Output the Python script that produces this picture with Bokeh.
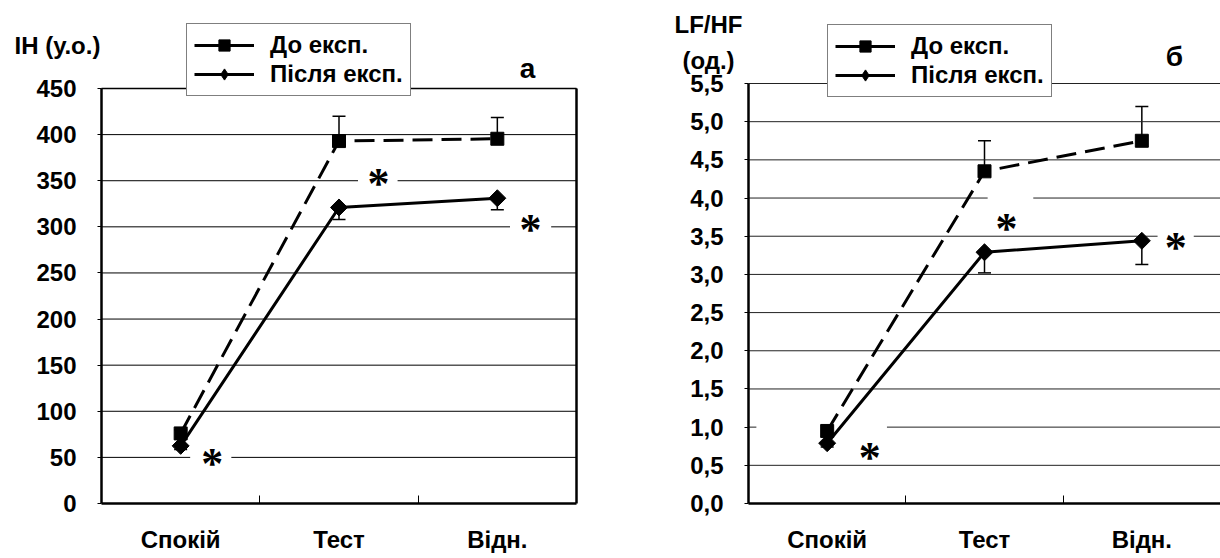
from bokeh.plotting import figure
from bokeh.models import (Range1d, FixedTicker, Legend, LegendItem, Label, Whisker,
                          TeeHead, ColumnDataSource)
from bokeh.layouts import row
from bokeh.embed import file_html
from bokeh.resources import INLINE
from bokeh.core.properties import value
import math

# ---------------- data ----------------
categories = ["Спокій", "Тест", "Відн."]
series_names = ["До експ.", "Після експ."]

ih_before = [76, 393, 395.5]
ih_before_err = [4, 27, 23]
ih_after = [62.5, 321, 331]
ih_after_err = [4, 13, 12.5]
ih_ticks = [0, 50, 100, 150, 200, 250, 300, 350, 400, 450]

lfhf_before = [0.95, 4.35, 4.75]
lfhf_before_err = [0.05, 0.40, 0.45]
lfhf_after = [0.79, 3.29, 3.44]
lfhf_after_err = [0.05, 0.27, 0.31]
lfhf_ticks = [0.0, 0.5, 1.0, 1.5, 2.0, 2.5, 3.0, 3.5, 4.0, 4.5, 5.0, 5.5]

# significance marks (asterisks) and the white boxes behind them
ih_star_x = [0.70, 1.75, 2.71]
ih_star_y = [48, 351, 301.5]
ih_gap_x0 = [0.56, 1.62, 2.58]
ih_gap_x1 = [0.82, 1.87, 2.84]
ih_gap_y = [50, 350, 300]

lfhf_star_x = [0.77, 1.64, 2.715]
lfhf_star_y = [0.654, 3.66, 3.40]
lfhf_gap_x0 = [0.05, 1.52, 2.60]
lfhf_gap_x1 = [0.88, 1.81, 2.83]
lfhf_gap_y = [1.0, 4.0, 3.5]

FONT = "Liberation Sans"
H = 558
NAN = float("nan")


def make_panel(width, left_px, frame_w, top_px, bottom_px, before, before_err,
               after, after_err, ticks, tick_labels, star_x, star_y, gap_x0, gap_x1,
               gap_y, grid_color, right_border, legend_box, titles, letter):
    ncat = len(categories)
    ymax = ticks[-1]
    xs = [i + 0.5 for i in range(ncat)]
    # frame covers the whole figure; axes are pinned at x=0 / y=0
    xpx = frame_w / ncat
    ypx = (bottom_px - top_px) / ymax
    x_range = Range1d(-left_px / xpx, (width - left_px) / xpx)
    y_range = Range1d(-(H - bottom_px) / ypx, bottom_px / ypx)
    p = figure(width=width, height=H, output_backend="svg", toolbar_location=None,
               x_range=x_range, y_range=y_range, title=None,
               min_border_left=0, min_border_right=0, min_border_top=0, min_border_bottom=0,
               background_fill_color="white", border_fill_color="white")
    p.outline_line_color = None
    p.xgrid.visible = False
    p.ygrid.visible = False

    # grid lines inside the plot box
    grid_ticks = [t for t in ticks if t > 0]
    p.segment(x0=[0] * len(grid_ticks), y0=grid_ticks, x1=[ncat] * len(grid_ticks),
              y1=grid_ticks, line_color=grid_color, line_width=1)
    if right_border:
        p.segment(x0=[0], y0=[ymax], x1=[ncat], y1=[ymax], line_color="black", line_width=1.5)
        p.segment(x0=[ncat], y0=[0], x1=[ncat], y1=[ymax], line_color="black", line_width=2.5)

    # white boxes interrupting grid lines around the asterisks
    p.segment(x0=gap_x0, y0=gap_y, x1=gap_x1, y1=gap_y, line_color="white", line_width=5)

    # axes
    xa = p.xaxis[0]
    xa.fixed_location = 0
    xa.bounds = (0, ncat)
    xa.ticker = FixedTicker(ticks=xs, minor_ticks=[i for i in range(1, ncat)])
    xa.major_label_overrides = {x: c for x, c in zip(xs, categories)}
    xa.major_tick_in = 0
    xa.major_tick_out = 0
    xa.minor_tick_in = 8
    xa.minor_tick_out = 0
    xa.minor_tick_line_color = "black"
    xa.minor_tick_line_width = 1
    xa.axis_line_width = 2.5
    xa.axis_line_color = "black"
    xa.major_label_standoff = 22
    xa.major_label_text_font = FONT
    xa.major_label_text_font_size = "24px"
    xa.major_label_text_font_style = "bold"
    xa.major_label_text_color = "black"

    ya = p.yaxis[0]
    ya.fixed_location = 0
    ya.bounds = (0, ymax)
    ya.ticker = FixedTicker(ticks=ticks, minor_ticks=[])
    ya.major_label_overrides = {t: l for t, l in zip(ticks, tick_labels)}
    ya.major_tick_in = 0
    ya.major_tick_out = 4
    ya.major_tick_line_color = "black"
    ya.axis_line_width = 2.5
    ya.axis_line_color = "black"
    ya.major_label_standoff = 21
    ya.major_label_text_font = FONT
    ya.major_label_text_font_size = "24px"
    ya.major_label_text_font_style = "bold"
    ya.major_label_text_color = "black"

    # series
    p.line(xs, before, line_color="black", line_width=3, line_dash="20 9")
    p.line(xs, after, line_color="black", line_width=3)

    src_b = ColumnDataSource(dict(x=xs, lo=before,
                                  hi=[v + e for v, e in zip(before, before_err)]))
    src_a = ColumnDataSource(dict(x=xs, hi=after,
                                  lo=[v - e for v, e in zip(after, after_err)]))
    p.add_layout(Whisker(source=src_b, base="x", upper="hi", lower="lo", dimension="height",
                         line_color="black", line_width=1.5,
                         upper_head=TeeHead(size=13, line_width=1.5, line_color="black"),
                         lower_head=None))
    p.add_layout(Whisker(source=src_a, base="x", upper="hi", lower="lo", dimension="height",
                         line_color="black", line_width=1.5,
                         lower_head=TeeHead(size=13, line_width=1.5, line_color="black"),
                         upper_head=None))

    p.scatter(xs, before, marker="square", size=13, color="black")
    p.scatter(xs, after, marker="square", size=12, angle=math.pi / 4, color="black")

    # asterisks
    p.text(x=star_x, y=star_y, text=["*"] * len(star_x), text_font=value("Liberation Serif"),
           text_font_size="44px", text_font_style="bold", text_align="center",
           text_baseline="alphabetic", y_offset=4, text_color="black")

    # titles (screen units, from the figure's bottom-left corner)
    for (tx, ty, tt) in titles:
        p.add_layout(Label(x=tx, y=H - ty, x_units="screen", y_units="screen", text=tt,
                           text_align="center", text_baseline="middle",
                           text_font=FONT, text_font_size="24px",
                           text_font_style="bold", text_color="black"))
    lx, ly, lt = letter
    p.add_layout(Label(x=lx, y=H - ly, x_units="screen", y_units="screen", text=lt,
                       text_align="center", text_baseline="alphabetic",
                       text_font=FONT, text_font_size="28px",
                       text_font_style="bold", text_color="black"))

    # legend (legend-only renderers hold a single NaN point, so nothing shows in the plot)
    l1 = p.line([NAN], [NAN], line_color="black", line_width=3)
    m1 = p.scatter([NAN], [NAN], marker="square", size=12, color="black")
    l2 = p.line([NAN], [NAN], line_color="black", line_width=3)
    m2 = p.scatter([NAN], [NAN], marker="diamond", size=12, color="black")
    bx, bb = legend_box
    legend = Legend(items=[LegendItem(label=series_names[0], renderers=[l1, m1], index=0),
                           LegendItem(label=series_names[1], renderers=[l2, m2], index=0)],
                    location=(bx, H - bb), glyph_width=60, glyph_height=28,
                    label_text_font=FONT, label_text_font_size="24px",
                    label_text_font_style="bold", label_text_color="black",
                    padding=7, spacing=1, margin=0, label_standoff=16,
                    border_line_color="black", border_line_width=1,
                    background_fill_color="white", background_fill_alpha=1)
    p.add_layout(legend)
    return p


p1 = make_panel(640, 101, 475, 88, 503, ih_before, ih_before_err, ih_after, ih_after_err,
                ih_ticks, [str(t) for t in ih_ticks], ih_star_x, ih_star_y,
                ih_gap_x0, ih_gap_x1, ih_gap_y, "black", True, (186, 96),
                [(57, 45, "ІН (у.о.)")], (527, 68, "а"))
p2 = make_panel(580, 108, 472, 83, 503, lfhf_before, lfhf_before_err, lfhf_after,
                lfhf_after_err, lfhf_ticks,
                [f"{t:.1f}".replace(".", ",") for t in lfhf_ticks],
                lfhf_star_x, lfhf_star_y, lfhf_gap_x0, lfhf_gap_x1, lfhf_gap_y,
                "#222222", False, (187, 97),
                [(68, 24, "LF/HF"), (68, 60, "(од.)")], (534, 56, "б"))

layout = row(p1, p2, spacing=0)
open("out.html", "w").write(file_html(layout, INLINE))
